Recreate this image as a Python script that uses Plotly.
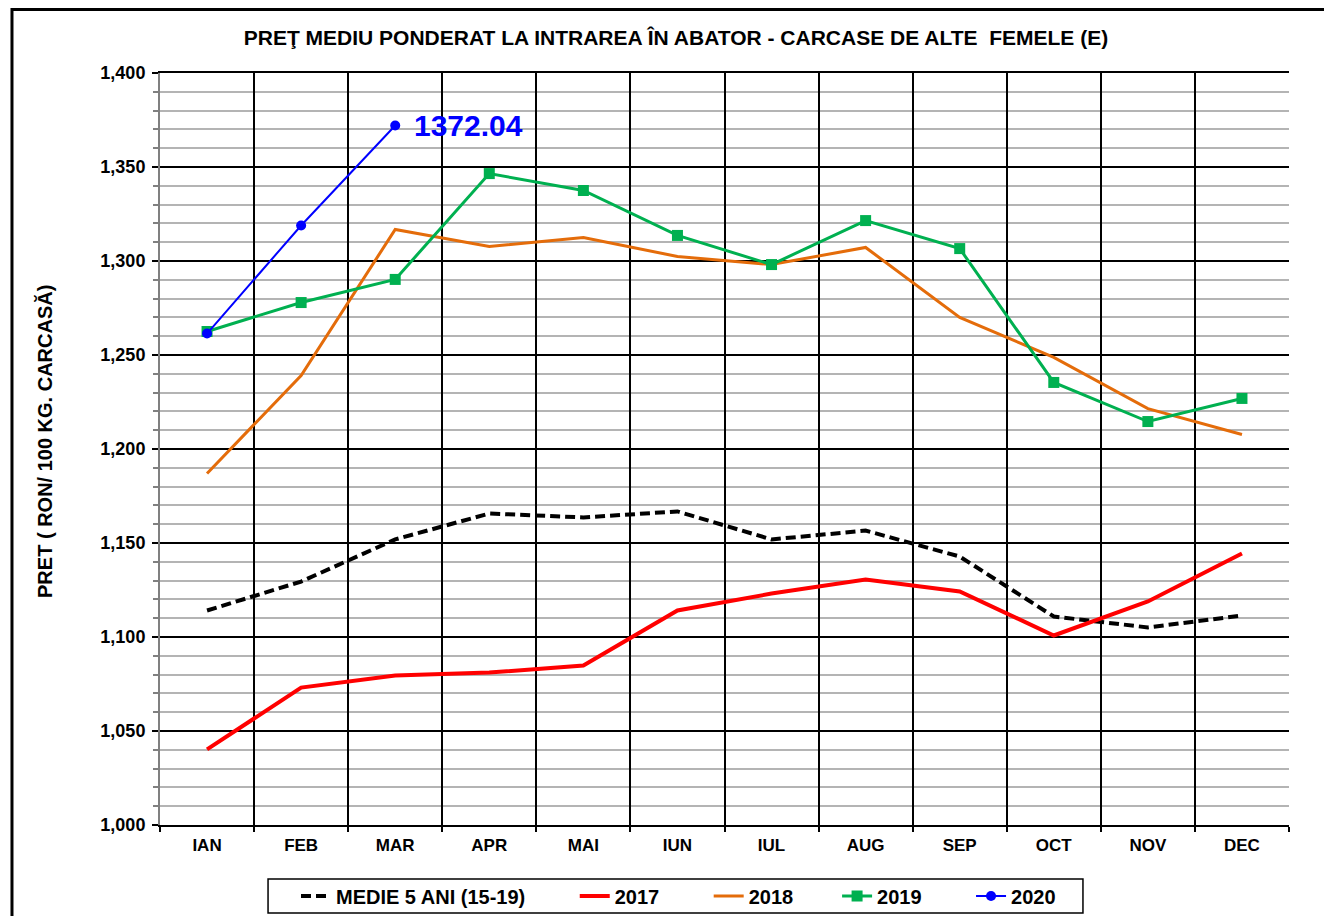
import plotly.graph_objects as go

months = ["IAN", "FEB", "MAR", "APR", "MAI", "IUN", "IUL", "AUG", "SEP", "OCT", "NOV", "DEC"]
medie_5_ani = [1114.1, 1129.5, 1151.9, 1165.7, 1163.6, 1166.8, 1151.9, 1156.6, 1142.8, 1110.9, 1105.1, 1111.4]
y2017 = [1040.2, 1073.1, 1079.5, 1081.1, 1084.8, 1114.1, 1123.1, 1130.6, 1124.2, 1100.8, 1118.9, 1144.4]
y2018 = [1187.0, 1239.1, 1316.8, 1307.7, 1312.5, 1302.4, 1298.1, 1307.2, 1270.0, 1248.7, 1221.5, 1207.7]
y2019 = [1262.5, 1277.9, 1290.2, 1346.5, 1337.5, 1313.6, 1298.1, 1321.5, 1306.6, 1235.4, 1214.6, 1226.9]
y2020 = [1261.4, 1318.9, 1372.04]
last_label = "1372.04"
series_names = ["MEDIE 5 ANI (15-19)", "2017", "2018", "2019", "2020"]

FONT = "Liberation Sans, Arial, sans-serif"
pad = [8, 8, 7, 8, 0]
names = [n + "&nbsp;" * p for n, p in zip(series_names, pad)]

fig = go.Figure()
fig.add_trace(go.Scatter(x=months, y=medie_5_ani, name=names[0], mode="lines",
                         line=dict(color="black", width=4, dash="10px,5px")))
fig.add_trace(go.Scatter(x=months, y=y2017, name=names[1], mode="lines",
                         line=dict(color="#FF0000", width=4)))
fig.add_trace(go.Scatter(x=months, y=y2018, name=names[2], mode="lines",
                         line=dict(color="#E46C0A", width=3)))
fig.add_trace(go.Scatter(x=months, y=y2019, name=names[3], mode="lines+markers",
                         line=dict(color="#00B050", width=3),
                         marker=dict(symbol="square", size=11, color="#00B050")))
fig.add_trace(go.Scatter(x=months[:len(y2020)], y=y2020, name=names[4], mode="lines+markers",
                         line=dict(color="#0000FF", width=2),
                         marker=dict(symbol="circle", size=10, color="#0000FF")))

fig.add_annotation(x=months[len(y2020) - 1], y=y2020[-1], text=last_label, showarrow=False,
                   xanchor="left", yanchor="middle", xshift=17,
                   font=dict(family=FONT, size=30, color="#0000FF", weight="bold"))

# y-axis title as annotation (placed like the reference)
fig.add_annotation(x=-0.1019, y=0.5106, xref="paper", yref="paper", textangle=-90,
                   text="PRET ( RON/ 100 KG. CARCASĂ)", showarrow=False,
                   xanchor="center", yanchor="middle",
                   font=dict(family=FONT, size=20, color="black", weight="bold"))

# outer frame
fig.add_shape(type="rect", xref="paper", yref="paper", x0=-0.1311, x1=1.06, y0=-0.2, y1=1.0845,
              line=dict(color="black", width=3), layer="below")
# legend box
fig.add_shape(type="rect", xref="paper", yref="paper", x0=0.0957, x1=0.8175, y0=-0.117, y1=-0.0718,
              line=dict(color="black", width=1.5), layer="below")

fig.update_layout(
    width=1324, height=908,
    paper_bgcolor="white", plot_bgcolor="white",
    margin=dict(l=152, r=43, t=65, b=91),
    title=dict(text="<b>PREŢ MEDIU PONDERAT LA INTRAREA ÎN ABATOR - CARCASE DE ALTE  FEMELE (E)</b>",
               x=0.5045, xref="container", xanchor="center", y=0.967, yref="container", yanchor="middle",
               font=dict(family=FONT, size=21, color="black")),
    font=dict(family=FONT, color="black"),
    showlegend=True,
    legend=dict(orientation="h", xref="container", yref="container", x=0.5064, xanchor="center",
                y=0.022, yanchor="middle", borderwidth=0, bgcolor="rgba(0,0,0,0)",
                font=dict(family=FONT, size=20, color="black", weight="bold"),
                tracegroupgap=0),
)

fig.update_xaxes(type="category", categoryorder="array", categoryarray=months,
                 tickson="boundaries", showgrid=True, gridcolor="black", gridwidth=2,
                 ticks="outside", ticklen=5, tickcolor="black", tickwidth=2,
                 showline=True, linecolor="black", linewidth=2, mirror=True,
                 ticklabelstandoff=4,
                 tickfont=dict(family=FONT, size=17, color="black", weight="bold"),
                 range=[-0.5, 11.5])
fig.update_yaxes(range=[1000, 1400], dtick=50, tick0=1000, tickformat=",d",
                 showgrid=True, gridcolor="black", gridwidth=2,
                 ticks="outside", ticklen=6, tickcolor="black", tickwidth=2,
                 minor=dict(dtick=10, showgrid=True, gridcolor="#B4B4B4", gridwidth=2,
                            ticks="outside", ticklen=5, tickcolor="#808080"),
                 showline=True, linecolor="#808080", linewidth=2,
                 zeroline=False, ticklabelstandoff=3,
                 tickfont=dict(family=FONT, size=18, color="black", weight="bold"))

fig.write_html("out.html")
